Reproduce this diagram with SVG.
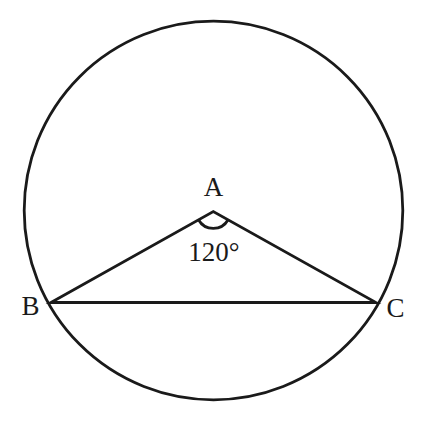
<svg xmlns="http://www.w3.org/2000/svg" width="425" height="421" viewBox="0 0 425 421">
<style>
.ln{fill:none;stroke:#1a1a1a;stroke-width:2.8;stroke-linejoin:miter}
.lb{font-family:"Liberation Serif","DejaVu Serif",serif;font-size:27px;fill:#1a1a1a}
</style>
<rect width="425" height="421" fill="#fff"/>
<g id="circle"><circle class="ln" cx="213.5" cy="210.5" r="189.3"/></g>
<g id="connectors">
<path class="ln" d="M51,302.5 L213.3,211.5 L376,302.5 Z"/>
<path class="ln" d="M198.5,219.8 A17,17 0 0 0 228.1,219.8"/>
</g>
<g id="labels">
<text class="lb" x="213.5" y="196" text-anchor="middle">A</text>
<text class="lb" x="214" y="261" text-anchor="middle">120°</text>
<text class="lb" x="30.5" y="315" text-anchor="middle">B</text>
<text class="lb" x="395.5" y="317" text-anchor="middle">C</text>
</g>
</svg>
